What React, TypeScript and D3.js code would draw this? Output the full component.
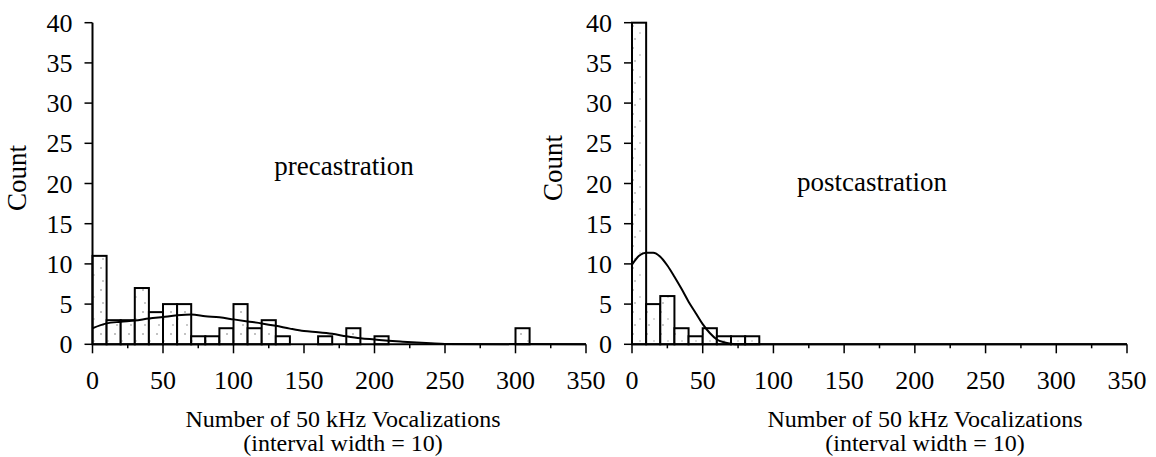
import React from "react";
import * as d3 from "d3";

// Histogram bin counts, interval width = 10, starting at 0
const binWidth = 10;
const preCounts = [11, 3, 3, 7, 4, 5, 5, 1, 1, 2, 5, 2, 3, 1, 0, 0, 1, 0, 2, 0, 1, 0, 0, 0, 0, 0, 0, 0, 0, 0, 2, 0, 0, 0, 0];
const postCounts = [40, 5, 6, 2, 1, 2, 1, 1, 1];

// Smoothed density overlays (x in vocalizations, y in count units)
const preCurveX = [0, 10, 20, 30, 40, 50, 60, 70, 80, 90, 100, 110, 120, 130, 140, 150, 160, 170, 180, 190, 200, 210, 220, 230, 240, 250, 350];
const preCurveY = [2.0, 2.6, 2.8, 2.95, 3.2, 3.4, 3.6, 3.7, 3.5, 3.35, 3.1, 2.85, 2.6, 2.3, 1.95, 1.65, 1.5, 1.3, 1.0, 0.75, 0.6, 0.45, 0.33, 0.22, 0.12, 0.04, 0];
const postCurveX = [0, 5, 10, 15, 20, 25, 30, 35, 40, 45, 50, 55, 60, 65, 70, 75, 350];
const postCurveY = [9.9, 11.0, 11.4, 11.4, 10.9, 9.8, 8.4, 6.9, 5.3, 3.9, 2.5, 1.4, 0.6, 0.25, 0.08, 0, 0];

const xTickValues = [0, 50, 100, 150, 200, 250, 300, 350];
const xMinorTicks = [25, 75, 125, 175, 225, 275, 325];
const yTickValues = [0, 5, 10, 15, 20, 25, 30, 35, 40];

const panelTitles = ["precastration", "postcastration"];
const yTitle = "Count";
const xTitleLines = ["Number of 50 kHz Vocalizations", "(interval width = 10)"];

const FONT = "'Liberation Serif', 'Times New Roman', serif";
const FS = 27;
const TICK_FS = 26;
const XTITLE_FS = 24;

type PanelProps = {
  counts: number[];
  curveX: number[];
  curveY: number[];
  x0: number;
  x1: number;
  title: string;
  titleX: number;
  titleY: number;
  countX: number;
  countY: number;
  xTitleX: number;
};

const yTop = 22.7;
const yBottom = 344.3;

function Panel({ counts, curveX, curveY, x0, x1, title, titleX, titleY, countX, countY, xTitleX }: PanelProps) {
  const x = d3.scaleLinear().domain([0, 350]).range([x0, x1]);
  const y = d3.scaleLinear().domain([0, 40]).range([yBottom, yTop]);
  const line = d3
    .line<number>()
    .x((_, i) => x(curveX[i]))
    .y((d) => y(d))
    .curve(d3.curveMonotoneX);
  return (
    <g>
      {/* bars */}
      {counts.map((c, i) =>
        c > 0 ? (
          <rect
            key={i}
            x={x(i * binWidth)}
            y={y(c)}
            width={x((i + 1) * binWidth) - x(i * binWidth)}
            height={y(0) - y(c)}
            fill="url(#stipple)"
            stroke="#000"
            strokeWidth={2}
          />
        ) : null
      )}
      {/* density curve */}
      <path d={line(curveY) || ""} fill="none" stroke="#000" strokeWidth={2} />
      {/* y axis */}
      <line x1={x0} x2={x0} y1={y(0)} y2={y(40)} stroke="#000" strokeWidth={2} />
      {yTickValues.map((t) => (
        <g key={t}>
          <line x1={x0 - 8} x2={x0} y1={y(t)} y2={y(t)} stroke="#000" strokeWidth={1.5} />
          <text
            x={x0 - 20}
            y={y(t)}
            dy="0.35em"
            textAnchor="end"
            fontFamily={FONT}
            fontSize={TICK_FS}
          >
            {t}
          </text>
        </g>
      ))}
      {/* x axis */}
      <line x1={x0} x2={x1} y1={y(0)} y2={y(0)} stroke="#000" strokeWidth={2} />
      {xTickValues.map((t) => (
        <g key={t}>
          <line x1={x(t)} x2={x(t)} y1={y(0)} y2={y(0) + 9} stroke="#000" strokeWidth={1.5} />
          <text x={x(t)} y={389} textAnchor="middle" fontFamily={FONT} fontSize={TICK_FS}>
            {t}
          </text>
        </g>
      ))}
      {xMinorTicks.map((t) => (
        <line key={t} x1={x(t)} x2={x(t)} y1={y(0)} y2={y(0) + 4} stroke="#000" strokeWidth={1.5} />
      ))}
      {/* titles */}
      <text x={titleX} y={titleY} textAnchor="middle" fontFamily={FONT} fontSize={FS}>
        {title}
      </text>
      <text
        transform={`translate(${countX},${countY}) rotate(-90)`}
        textAnchor="middle"
        fontFamily={FONT}
        fontSize={FS}
      >
        {yTitle}
      </text>
      <text x={xTitleX} y={427} textAnchor="middle" fontFamily={FONT} fontSize={XTITLE_FS}>
        {xTitleLines[0]}
      </text>
      <text x={xTitleX} y={451} textAnchor="middle" fontFamily={FONT} fontSize={XTITLE_FS}>
        {xTitleLines[1]}
      </text>
    </g>
  );
}

export default function App() {
  return (
    <svg
      width={1156}
      height={457}
      style={{ position: "absolute", left: 0, top: 0, background: "#fff" }}
    >
      <defs>
        <pattern id="stipple" width="14" height="22" patternUnits="userSpaceOnUse">
          <rect width="14" height="22" fill="#fff" />
          <circle cx="3" cy="4" r="0.8" fill="#777" />
          <circle cx="10" cy="11" r="0.7" fill="#999" />
          <circle cx="5" cy="17" r="0.8" fill="#888" />
        </pattern>
      </defs>
      <Panel
        counts={preCounts}
        curveX={preCurveX}
        curveY={preCurveY}
        x0={92.5}
        x1={586}
        title={panelTitles[0]}
        titleX={344}
        titleY={175}
        countX={26}
        countY={178}
        xTitleX={343}
      />
      <Panel
        counts={postCounts}
        curveX={postCurveX}
        curveY={postCurveY}
        x0={632}
        x1={1127}
        title={panelTitles[1]}
        titleX={872}
        titleY={191}
        countX={562}
        countY={168}
        xTitleX={925}
      />
    </svg>
  );
}
